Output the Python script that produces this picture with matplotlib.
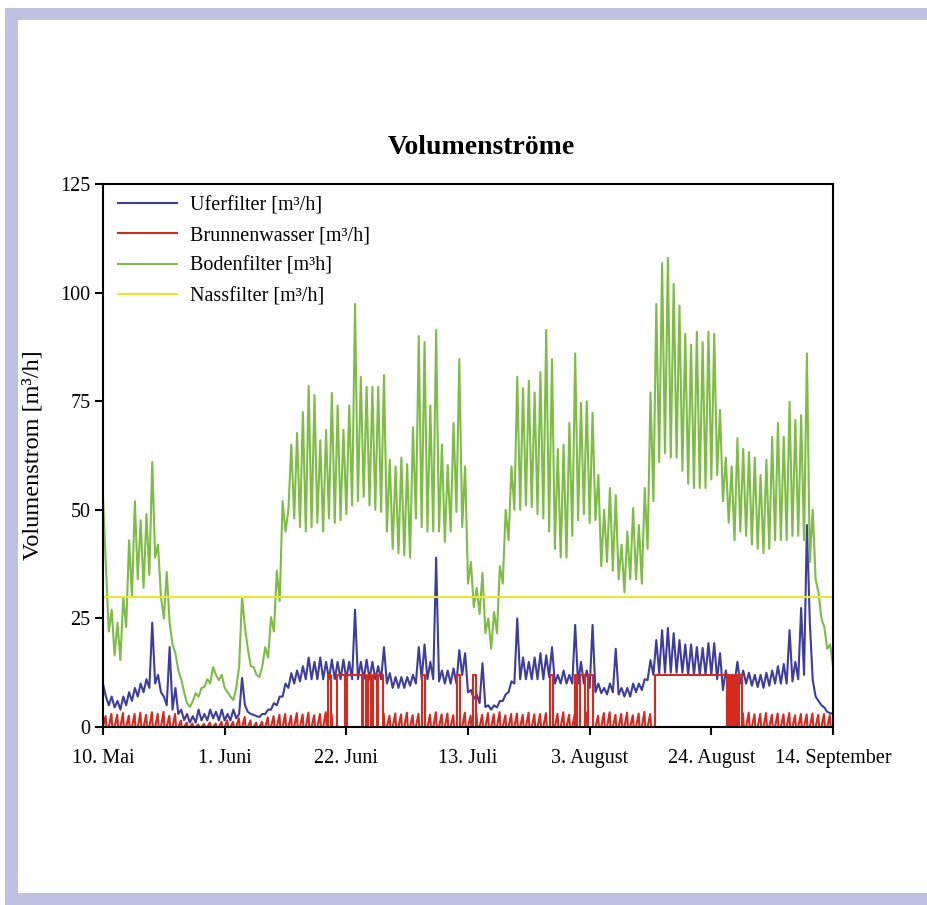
import numpy as np
import matplotlib
matplotlib.use("Agg")
import matplotlib.pyplot as plt
from matplotlib.patches import Rectangle

# --- data (day 0 = 10. Mai), values at 0:00 and 12:00 of each day ---
tick_days = [0, 21, 42, 63, 84, 105, 126]
tick_labels = ["10. Mai", "1. Juni", "22. Juni", "13. Juli", "3. August", "24. August", "14. September"]

bodenfilter_0h = [
    53, 22, 16.5, 15.4, 23, 30, 34, 32, 35, 39, 30, 35.7, 19, 13, 8, 4.6, 7.8, 9, 11, 13.8,
    10.8, 9, 7, 9, 30, 18, 13.8, 11.5, 18.4, 25.3, 36, 52, 50, 48, 46, 45, 46, 47, 45, 48,
    47, 47.6, 49, 51, 52, 53, 51, 50, 49.5, 45, 41, 40, 39.5, 39, 48, 46, 45, 45, 45, 42.6,
    45, 49.5, 46, 33, 27.6, 26, 21.6, 18, 21.6, 33, 43, 50, 50, 51, 50.6, 49, 48, 45, 41, 39,
    39, 44, 47.6, 49, 47, 47.6, 37, 38, 36, 34, 31, 34, 34, 33, 41, 52, 61, 63, 62, 62,
    59, 56, 55, 55, 55, 57, 58, 52, 47, 43, 45, 44, 42, 41, 40, 41, 43, 43, 43, 44,
    44, 43, 38, 34, 25, 18, 14]
bodenfilter_12h = [
    37, 27, 24, 30, 43, 52, 47.6, 49, 61, 42, 25, 24, 17, 11, 5.5, 6, 7, 9.2, 10, 12,
    12, 8, 6.2, 14, 23, 14, 12, 14, 16, 22, 29, 45, 65, 67.7, 72.5, 78.5, 76.4, 66, 68.4, 76.9,
    74, 68.4, 74, 97.4, 80.6, 78.3, 78.3, 78.3, 81, 61.5, 60, 62, 60.5, 69, 90, 88.6, 74, 91.4, 65, 60.3,
    70, 84.7, 60, 38, 32, 35.5, 25, 26.5, 37, 50, 60, 80.6, 78, 79.7, 77, 81.7, 91.4, 84.7, 64, 65,
    70, 86, 74.6, 75, 72.3, 58, 50, 55, 53.4, 42, 45, 50.4, 46.5, 55, 77, 97.4, 106.8, 108, 102, 97,
    90.5, 88, 91, 88.6, 91, 90.5, 73, 62, 60, 66.5, 64, 63.3, 62, 58, 61.5, 66.8, 70, 66.8, 74.8, 70.7,
    71.8, 86, 50, 31, 23, 19, 16]

uferfilter_0h = [
    10, 5, 4.5, 4, 5, 6, 7, 8, 9, 10, 8, 5, 4, 3, 1.6, 1, 1, 1.5, 1.5, 2,
    1.5, 1.5, 1.5, 2, 11.3, 3.5, 2.8, 2.3, 3, 4, 5, 7, 9, 10, 10.5, 11, 11, 11, 11, 11,
    11, 11, 11, 11, 11, 11, 11, 11, 11, 10, 9, 9, 9, 9.5, 10, 11, 11, 11, 10.5, 10,
    10, 10, 12, 8, 6.5, 5.5, 4.6, 4, 4.5, 6, 8, 10, 11, 11, 11, 11, 11, 11.5, 10, 10,
    10, 10, 10, 10, 9, 8, 7.8, 7.5, 8, 7.5, 7, 7, 8, 8.5, 10.8, 12, 12.4, 12.5, 12.5, 12.5,
    12.5, 12, 12, 12, 12, 12, 11, 8.5, 9, 10, 10, 10, 9.5, 9.2, 9, 9.5, 10, 10, 10, 10.5,
    11, 12, 24, 7, 5, 3.5, 3]
uferfilter_12h = [
    7, 7, 6, 7, 8, 9, 10, 11, 24, 12, 7, 18.4, 9, 4, 3, 2.5, 4, 3, 4, 3.5,
    4, 3, 4, 3, 5, 3, 2.5, 3, 4, 5.5, 7, 10, 12.4, 13, 14, 16, 15, 16, 15, 15.5,
    15, 15.5, 15, 27, 15, 15.5, 15, 14, 18.4, 12.4, 11.5, 11.5, 11.5, 12, 18.4, 19, 15, 39, 13, 13,
    13.5, 17.7, 17, 8.5, 7.5, 14.7, 5, 5, 6, 7.5, 10.5, 25, 16, 15, 16, 17, 16.5, 18.4, 12, 13,
    12, 23.5, 15, 13, 23.5, 10, 9, 10, 18, 9, 9, 10, 10, 11, 15.4, 20, 22.3, 22.8, 21.6, 20,
    19, 19, 18.4, 18.2, 19.3, 19.3, 17, 13, 12, 15, 13, 12.5, 12, 12, 12.5, 13, 14, 14.5, 22.3, 15,
    27.4, 46.5, 10.8, 6, 4.5, 3.2, 3]

# daily spikes of the well water, plus the spans where the pump ran at full rate
brunnen_spike = [
    2.5, 3, 2.8, 3.2, 2.6, 3, 3.3, 2.8, 3.4, 3, 3.5, 2.6, 3, 1.5, 1, 0.8, 0.6, 0.7, 1, 0.8,
    1.2, 1.5, 1.2, 2, 2.3, 1.5, 1, 1.2, 2.2, 2.5, 2.8, 3, 2.6, 3.2, 2.9, 3.3, 2.7, 3, 3.4, 3,
    3.2, 2.8, 3, 3, 3, 3, 3, 3, 3, 2.6, 3.1, 2.9, 3.3, 2.7, 3, 3.2, 2.8, 3.4, 2.9, 3.1,
    2.7, 3, 3.3, 2.6, 3, 2.8, 3.2, 2.9, 3.4, 2.7, 3, 3.1, 2.8, 3.3, 2.9, 3, 3.2, 2.7, 3, 3.4,
    2.8, 3.1, 3, 3.3, 2.9, 2.6, 3.2, 3.4, 2.8, 3, 3.3, 2.7, 3.1, 3.5, 3, 3, 3, 3, 3, 3,
    3, 3, 3, 3, 3, 3, 3, 3.2, 3.4, 2.8, 3.1, 3.3, 2.9, 3, 3.2, 2.8, 3.1, 2.9, 3.2, 2.7,
    3, 2.9, 3.1, 2.8, 3, 2.7, 2.9]
brunnen_on_start = [38.8, 40.4, 42.1, 44.9, 45.7, 46.6, 47.5, 55.1, 61.1, 63.9, 77.1,
                    81.5, 82.3, 83.7, 95.3, 107.9, 108.5, 109.1, 109.8]
brunnen_on_end = [39.4, 41.8, 44.7, 45.4, 46.3, 47.3, 48.3, 55.6, 61.6, 64.3, 77.6,
                  81.8, 83.2, 84.6, 107.7, 108.2, 108.8, 109.4, 110.3]
brunnen_on_level = 12

nass_days = [0, 126]
nass_vals = [30, 30]

BLUE = "#3d3d9b"
RED = "#d62a1e"
GREEN = "#7dbd46"
YELLOW = "#e8e82a"
LAVENDER = "#c0c0e0"

plt.rcParams["font.family"] = ["Liberation Serif", "DejaVu Serif"]

W, H = 928, 905
fig = plt.figure(figsize=(W / 100, H / 100), dpi=100)

# lavender frame round the picture (top, left, bottom)
for x0, y0, w, h in [(5, 8, 923, 12), (5, 8, 13, 897), (5, 893, 923, 12)]:
    fig.add_artist(Rectangle((x0 / W, 1 - (y0 + h) / H), w / W, h / H,
                             transform=fig.transFigure, color=LAVENDER, lw=0, zorder=0))

ax = fig.add_axes([103 / W, 1 - 727 / H, 730 / W, 543 / H])

days = np.arange(len(bodenfilter_0h))
t_half = np.column_stack([days, days + 0.5]).ravel()

ufer = np.column_stack([uferfilter_0h, uferfilter_12h]).ravel()
boden = np.column_stack([bodenfilter_0h, bodenfilter_12h]).ravel()

# well water: zero baseline with a short spike each day, cut out where the pump ran
t_red = np.column_stack([days, days + 0.45, days + 0.6]).ravel()
v_red = np.column_stack([np.zeros(len(days)), brunnen_spike, np.zeros(len(days))]).ravel()
for s, e in zip(brunnen_on_start, brunnen_on_end):
    v_red[(t_red > s) & (t_red < e)] = np.nan

lw = 1.5
h_ufer, = ax.plot(t_half, ufer, color=BLUE, lw=lw, label="Uferfilter [m³/h]")
h_red, = ax.plot(t_red, v_red, color=RED, lw=lw, label="Brunnenwasser [m³/h]")
for s, e in zip(brunnen_on_start, brunnen_on_end):
    ax.plot([s, s, e, e], [0, brunnen_on_level, brunnen_on_level, 0], color=RED, lw=lw)
h_boden, = ax.plot(t_half, boden, color=GREEN, lw=lw, label="Bodenfilter [m³h]")
h_nass, = ax.plot(nass_days, nass_vals, color=YELLOW, lw=lw, label="Nassfilter [m³/h]")

ax.set_xlim(0, 126)
ax.set_ylim(0, 125)
ax.set_xticks(tick_days)
ax.set_xticklabels(tick_labels)
ax.set_yticks([0, 25, 50, 75, 100, 125])
ax.tick_params(direction="out", length=6, width=1.5, labelsize=14.5)
ax.tick_params(axis="x", pad=10)
ax.tick_params(axis="y", pad=3)
for sp in ax.spines.values():
    sp.set_linewidth(1.5)

ax.set_ylabel("Volumenstrom [m³/h]", fontsize=17.5)
ax.yaxis.set_label_coords(-60 / 730, 0.5)
fig.text(481 / W, 1 - 147 / H, "Volumenströme", fontsize=20, fontweight="bold",
         ha="center", va="center")

ax.legend(handles=[h_ufer, h_red, h_boden, h_nass], loc="upper left",
          bbox_to_anchor=(0.021, 0.978), frameon=False, fontsize=14.5,
          handlelength=2.93, handletextpad=0.65, labelspacing=0.56, borderpad=0,
          borderaxespad=0)

fig.savefig("out.png", dpi=100)
